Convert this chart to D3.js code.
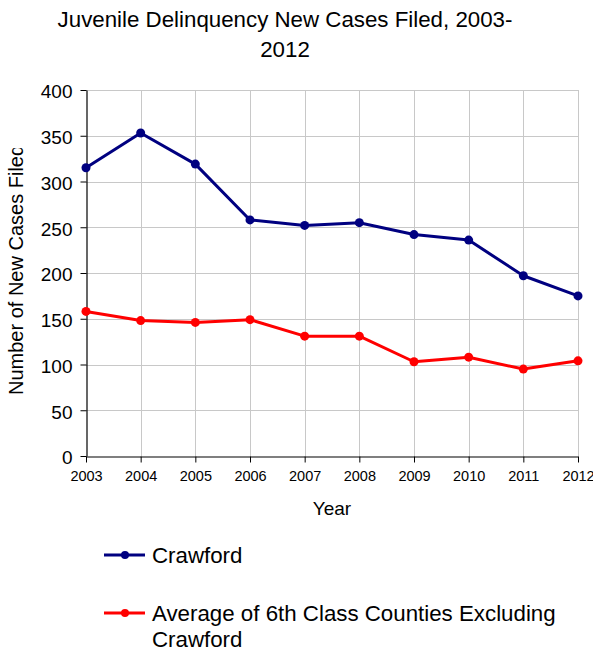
<!DOCTYPE html>
<html>
<head>
<meta charset="utf-8">
<script src="https://cdn.jsdelivr.net/npm/d3@7"></script>
<style>
  html, body { margin: 0; padding: 0; background: #fff; }
  svg { display: block; font-family: "Liberation Sans", Arial, sans-serif; }
</style>
</head>
<body>
<svg id="chart" width="593" height="652"></svg>
<script>
const years = [2003, 2004, 2005, 2006, 2007, 2008, 2009, 2010, 2011, 2012];
const crawford = [315, 353, 319, 258, 252, 255, 242, 236, 197, 175];
const average6th = [158, 148, 146, 149, 131, 131, 103, 108, 95, 104];
const yTicks = [0, 50, 100, 150, 200, 250, 300, 350, 400];
const seriesNames = ["Crawford", "Average of 6th Class Counties Excluding Crawford"];
const titleLines = ["Juvenile Delinquency New Cases Filed, 2003-", "2012"];

(function () {
const series = [
  { name: seriesNames[0], values: crawford, color: "#000080" },
  { name: seriesNames[1], values: average6th, color: "#ff0000" }
];

const svg = d3.select("#chart");
const pL = 86, pR = 578, pT = 90, pB = 456;

const x = d3.scaleLinear().domain([years[0], years[years.length - 1]]).range([pL, pR]);
const y = d3.scaleLinear().domain([0, 400]).range([pB, pT]);

// Title
svg.append("g").selectAll("text").data(titleLines).join("text")
  .attr("x", 285).attr("y", (d, i) => 27 + i * 30)
  .attr("text-anchor", "middle").attr("font-size", 22.3).attr("fill", "#000")
  .text(d => d);

// Grid
const grid = svg.append("g").attr("stroke", "#c8c8c8").attr("stroke-width", 1);
grid.selectAll("line.h").data(yTicks.filter(t => t > 0)).join("line")
  .attr("x1", pL).attr("x2", pR)
  .attr("y1", d => Math.round(y(d)) + 0.5).attr("y2", d => Math.round(y(d)) + 0.5);
grid.selectAll("line.v").data(years.slice(1)).join("line")
  .attr("y1", pT).attr("y2", pB)
  .attr("x1", d => Math.round(x(d)) + 0.5).attr("x2", d => Math.round(x(d)) + 0.5);

// Y axis
const yAxis = svg.append("g").attr("transform", `translate(${pL + 0.5},0)`)
  .call(d3.axisLeft(y).tickValues(yTicks).tickSize(6).tickSizeOuter(0).tickPadding(8));
yAxis.select(".domain").attr("stroke", "#000").attr("stroke-width", 1.2);
yAxis.selectAll(".tick line").attr("stroke", "#000");
yAxis.selectAll(".tick text").attr("font-size", 19).attr("fill", "#000")
  .attr("font-family", "Liberation Sans, Arial, sans-serif").attr("dy", "0.42em");

// X axis
const xAxis = svg.append("g").attr("transform", `translate(0,${pB + 0.5})`)
  .call(d3.axisBottom(x).tickValues(years).tickFormat(d3.format("d")).tickSize(6).tickSizeOuter(0).tickPadding(8));
xAxis.select(".domain").attr("stroke", "#000").attr("stroke-width", 1.2);
xAxis.selectAll(".tick line").attr("stroke", "#000");
xAxis.selectAll(".tick text").attr("font-size", 14.5).attr("fill", "#000")
  .attr("font-family", "Liberation Sans, Arial, sans-serif");

// Axis titles
svg.append("text").attr("x", (pL + pR) / 2).attr("y", 515)
  .attr("text-anchor", "middle").attr("font-size", 19).text("Year");

svg.append("clipPath").attr("id", "ylabclip")
  .append("rect").attr("x", 0).attr("y", 148).attr("width", 60).attr("height", 400);
svg.append("g").attr("clip-path", "url(#ylabclip)")
  .append("text").attr("transform", "translate(23,395) rotate(-90)")
  .attr("text-anchor", "start").attr("font-size", 20).text("Number of New Cases Filed");

// Lines
const line = d3.line().x((d, i) => x(years[i])).y(d => y(d));
series.forEach(s => {
  svg.append("path").datum(s.values).attr("d", line)
    .attr("fill", "none").attr("stroke", s.color).attr("stroke-width", 3)
    .attr("stroke-linejoin", "round");
  svg.append("g").selectAll("circle").data(s.values).join("circle")
    .attr("cx", (d, i) => x(years[i])).attr("cy", d => y(d)).attr("r", 4.5)
    .attr("fill", s.color);
});

// Legend
const legendY = [555, 613];
series.forEach((s, i) => {
  const g = svg.append("g").attr("transform", `translate(0,${legendY[i]})`);
  g.append("line").attr("x1", 104).attr("x2", 145).attr("y1", 0).attr("y2", 0)
    .attr("stroke", s.color).attr("stroke-width", 3);
  g.append("circle").attr("cx", 125).attr("cy", 0).attr("r", 4).attr("fill", s.color);
  const words = s.name === seriesNames[1]
    ? ["Average of 6th Class Counties Excluding", "Crawford"] : [s.name];
  g.selectAll("text").data(words).join("text")
    .attr("x", 152).attr("y", (d, j) => 8 + j * 25.7)
    .attr("font-size", 22.3).attr("fill", "#000").text(d => d);
});
})();
</script>
</body>
</html>
